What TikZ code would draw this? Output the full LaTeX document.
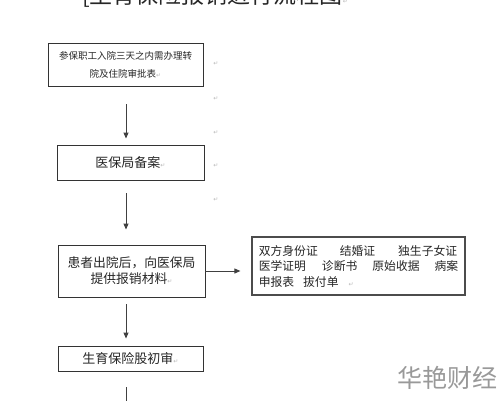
\documentclass[tikz,border=0pt]{standalone}
\usepackage{fontspec}
\setmainfont{Noto Sans CJK SC}
\newfontfamily\symf{DejaVu Sans}
\usetikzlibrary{arrows.meta}
\definecolor{boxline}{HTML}{333333}
\newcommand{\pmark}{{\symf\color{gray!55}\fontsize{6}{6}\selectfont ↵}}
\begin{document}
\begin{tikzpicture}[x=1pt,y=-1pt,
 box/.style={draw=boxline,line width=0.9pt,inner sep=0pt,align=center,text=black!85},
 arr/.style={draw=black!75,line width=0.9pt,-{Triangle[length=6pt,width=5pt]}},
 ln/.style={draw=black!75,line width=0.9pt},
 pmk/.style={inner sep=0pt,text=gray!55,font=\symf\fontsize{6}{6}\selectfont}]
\useasboundingbox (0,0) rectangle (500,400);
\clip (0,0) rectangle (500,400);
\fill[white] (0,0) rectangle (500,400);

\node[anchor=base west,inner sep=0pt,font=\fontsize{23}{23}\selectfont,text=black!85] (title) at (82,3) {[生育保险报销进行流程图\pmark};

\node[box,minimum width=155pt,minimum height=43pt,font=\fontsize{9.5}{18}\selectfont] (b1) at (125.5,64.5) {参保职工入院三天之内需办理转\\院及住院审批表\pmark};
\node[box,minimum width=147pt,minimum height=35pt,font=\fontsize{13}{16}\selectfont] (b2) at (130.5,162.5) {医保局备案\pmark};
\node[box,minimum width=147pt,minimum height=52pt,font=\fontsize{12.8}{16}\selectfont] (b3) at (131.5,271) {患者出院后，向医保局\\提供报销材料\pmark};
\node[box,draw=black!70,line width=1.2pt,minimum width=213pt,minimum height=58pt,align=left,font=\fontsize{11.8}{15.5}\selectfont] (b4) at (358.5,266) {双方身份证\hspace{22pt}结婚证\hspace{23pt}独生子女证\\医学证明\hspace{16pt}诊断书\hspace{15pt}原始收据\hspace{15pt}病案\\申报表\hspace{9pt}拔付单\hspace{10pt}\pmark};
\node[box,minimum width=145pt,minimum height=25pt,font=\fontsize{13}{16}\selectfont] (b5) at (130.5,358.5) {生育保险股初审\pmark};

\node[pmk] (p1) at (216,64) {↵};
\node[pmk] (p2) at (216,99) {↵};
\node[pmk] (p3) at (216,133) {↵};
\node[pmk] (p4) at (216,166) {↵};
\node[pmk] (p5) at (216,200) {↵};

\coordinate (ax) at (126,0);
\coordinate (bot) at (126,410);
\draw[arr,shorten <=18pt,shorten >=6pt] (b1.south -| ax) -- (b2.north -| ax);
\draw[arr,shorten <=13pt,shorten >=15pt] (b2.south -| ax) -- (b3.north -| ax);
\draw[arr,shorten <=7pt,shorten >=7pt] (b3.south -| ax) -- (b5.north -| ax);
\draw[ln,shorten <=16pt] (b5.south -| ax) -- (bot);
\draw[arr,shorten >=11pt] (b3.east) -- (b3.east -| b4.west);

\node[inner sep=0pt,font=\fontsize{25}{25}\selectfont,text=gray!80] (wm) at (447,378) {华艳财经};
\end{tikzpicture}
\end{document}
